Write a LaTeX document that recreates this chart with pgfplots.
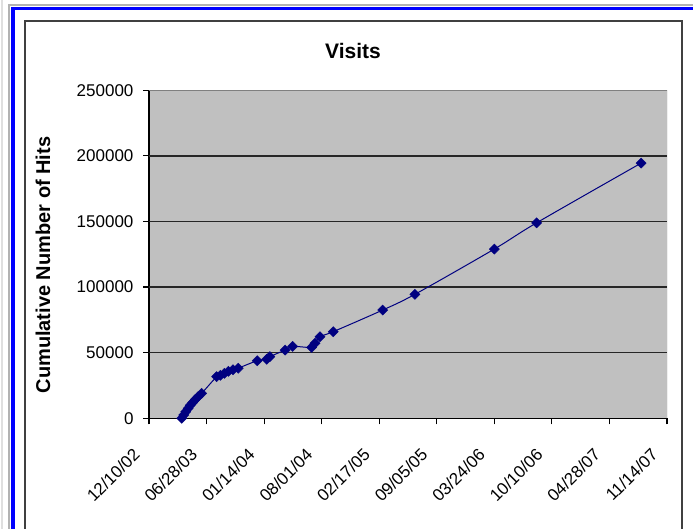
\documentclass[border=0pt]{standalone}
\usepackage{pgfplots}
\pgfplotsset{compat=1.18}
\usepackage{fontspec}
\setmainfont{Liberation Sans}
\definecolor{plotgray}{HTML}{C0C0C0}
\definecolor{navyblue}{HTML}{000080}
\definecolor{framegray}{HTML}{404040}
\begin{document}
\begin{tikzpicture}[x=1pt,y=1pt]
\useasboundingbox (0,0) rectangle (693,529);
\clip (0,0) rectangle (693,529);
\fill[white] (0,0) rectangle (693,529);
% window frame
\draw[gray!25, line width=2] (1.5,-10) -- (1.5,540);
\draw[gray!60, line width=2] (9,-10) -- (9,524) -- (700,524);
\draw[blue, line width=3.5] (13,-10) -- (13,520.5) -- (700,520.5);
\draw[framegray, line width=2] (24.5,-10) -- (24.5,508) -- (682,508) -- (682,-10);
\node[font=\fontsize{21}{24}\selectfont\bfseries] at (353,478) {Visits};
\node[font=\fontsize{20}{24}\selectfont\bfseries, rotate=90] at (43,264) {Cumulative Number of Hits};
\begin{axis}[
  at={(149pt,110.7pt)}, anchor=south west, scale only axis,
  width=518pt, height=328pt,
  xmin=0, xmax=1800, ymin=0, ymax=250000,
  xtick={0,200,...,1800},
  xticklabels={12/10/02,06/28/03,01/14/04,08/01/04,02/17/05,09/05/05,03/24/06,10/10/06,04/28/07,11/14/07},
  ytick={0,50000,...,250000},
  scaled y ticks=false,
  yticklabel style={/pgf/number format/fixed, /pgf/number format/1000 sep={}, xshift=-6pt},
  /pgf/number format/assume math mode=true,
  tick label style={font=\fontsize{17}{20}\selectfont},
  x tick label style={xshift=-10pt, yshift=-25pt, rotate=45, anchor=east},
  tick align=outside, major tick length=6pt,
  axis x line*=bottom, axis y line*=left,
  axis line style={black, line width=1.5pt},
  tick style={black, line width=1.2pt},
  axis background/.style={fill=plotgray},
]
\draw[black!85, line width=1.6pt] (axis cs:0,50000) -- (axis cs:1800,50000);
\draw[black!85, line width=1.6pt] (axis cs:0,100000) -- (axis cs:1800,100000);
\draw[black!85, line width=1.6pt] (axis cs:0,150000) -- (axis cs:1800,150000);
\draw[black!85, line width=1.6pt] (axis cs:0,200000) -- (axis cs:1800,200000);
\draw[gray, line width=1pt] (rel axis cs:0,1) -- (rel axis cs:1,1) -- (rel axis cs:1,0);
\addplot[navyblue, line width=1pt, smooth, tension=0.5,
  mark=square*, mark size=3.6pt,
  mark options={rotate=45, fill=navyblue, draw=navyblue, line width=0.4pt, solid}]
coordinates {
(114,0) (121,2500) (128,5000) (136,7500) (143,9800) (152,12000) (161,14300) (171,16500) (183,19000)
(235,31700) (248,32800) (262,34300) (276,35800) (292,37000) (310,38200)
(376,43900) (409,45000) (420,47000) (473,52000) (499,54800) (565,54000)
(577,57200) (594,62200) (640,66000)
(812,82500) (924,94500) (1200,129000) (1347,149000) (1710,194500)
};
\end{axis}
\end{tikzpicture}
\end{document}
